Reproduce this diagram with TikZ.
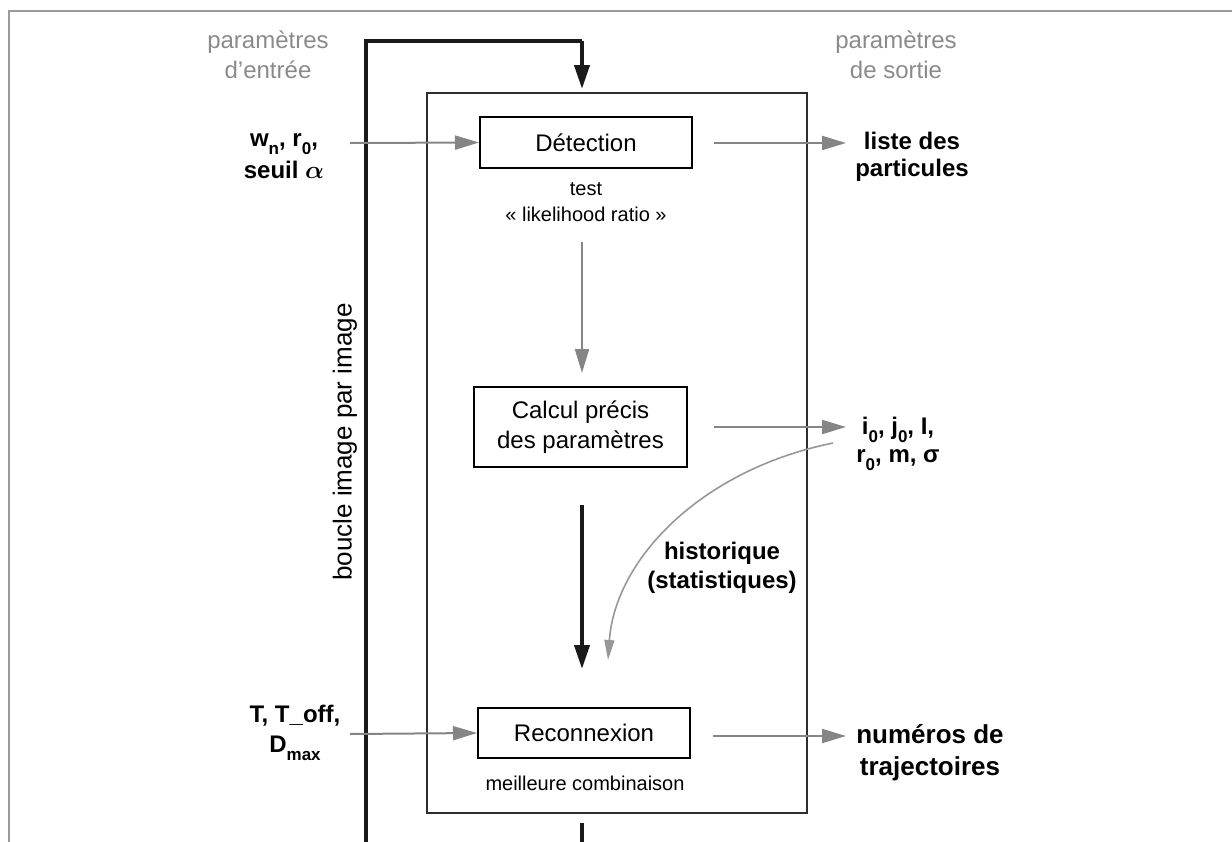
\documentclass[tikz,border=0pt]{standalone}
\usepackage{fontspec}
\setmainfont{Liberation Sans}
\usetikzlibrary{arrows.meta}
\definecolor{framegray}{HTML}{9A9A9A}
\definecolor{arrowgray}{HTML}{858585}
\definecolor{textgray}{HTML}{8A8A8A}
\definecolor{innergray}{HTML}{2E2E2E}
\definecolor{loopblack}{HTML}{1A1A1A}
\newcommand{\lowsub}[1]{\raisebox{-0.32em}{\fontsize{17}{17}\selectfont #1}}
\begin{document}
\begin{tikzpicture}[x=1pt,y=-1pt,
  box/.style={draw=black, line width=2pt, inner sep=0pt, align=center, font=\fontsize{24}{30}\selectfont},
  garrow/.style={draw=arrowgray, line width=2pt, -{Triangle[length=24pt,width=14pt]}},
  thinarrow/.style={draw=arrowgray!85, line width=1.6pt, -{Triangle[length=20pt,width=10pt]}},
  thickarrow/.style={draw=loopblack, line width=4pt, -{Triangle[length=24pt,width=15pt]}},
  thickline/.style={draw=loopblack, line width=4pt},
  graytxt/.style={text=textgray, align=center, font=\fontsize{24}{30}\selectfont},
  boldtxt/.style={align=center, font=\bfseries\fontsize{24}{30}\selectfont},
  smalltxt/.style={align=center, font=\fontsize{20}{26}\selectfont}
]
\useasboundingbox (0,0) rectangle (1232,841);
% outer frame
\draw[framegray, line width=2pt] (9,845) -- (9,11) -- (1236,11);
% inner box
\node[draw=innergray, line width=2.6pt, minimum width=380pt, minimum height=720pt, inner sep=0pt] (inner) at (617,453) {};
% main boxes
\node[box, minimum width=212pt, minimum height=51pt] (det) at (586,142.5) {Détection};
\node[box, minimum width=213pt, minimum height=80pt] (calc) at (580.5,427) {Calcul précis\\des paramètres};
\node[box, minimum width=212pt, minimum height=50pt] (rec) at (584,733) {Reconnexion};
% texts
\node[graytxt] (pin) at (268,55) {paramètres\\d’entrée};
\node[graytxt] (pout) at (896,55) {paramètres\\de sortie};
\node[boldtxt, font=\bfseries\fontsize{24}{32}\selectfont] (win) at (284,156) {w\lowsub{n}, r\lowsub{0},\\seuil {\boldmath$\alpha$}};
\node[boldtxt, font=\bfseries\fontsize{24}{27}\selectfont] (liste) at (912,157) {liste des\\particules};
\node[smalltxt] (test) at (586,202) {test\\« likelihood ratio »};
\node[boldtxt, font=\bfseries\fontsize{24}{28}\selectfont] (ipar) at (898,444) {i\lowsub{0}, j\lowsub{0}, I,\\r\lowsub{0}, m, σ};
\node[boldtxt, font=\bfseries\fontsize{24}{29}\selectfont] (hist) at (722,568) {historique\\(statistiques)};
\node[boldtxt, font=\bfseries\fontsize{24}{30}\selectfont] (tin) at (295,733) {T, T\_off,\\D\lowsub{max}};
\node[boldtxt, font=\bfseries\fontsize{26}{32}\selectfont] (num) at (930,753) {numéros de\\trajectoires};
\node[smalltxt] (best) at (585,783) {meilleure combinaison};
\node[rotate=90, font=\fontsize{26}{30}\selectfont] (boucle) at (345,442) {boucle image par image};
% coordinates
\coordinate (loopbot) at (366,845);
\coordinate (looptl) at (366,41);
\coordinate (looptr) at (582,41);
\coordinate (looptip) at (582,89);
\coordinate (winS) at (350,143);
\coordinate (detE) at (714,143);
\coordinate (listeW) at (846,143);
\coordinate (testS) at (582,242);
\coordinate (calcN) at (582,373);
\coordinate (calcE) at (714,427);
\coordinate (iparW) at (846,427);
\coordinate (curS) at (833,443);
\coordinate (curE) at (608,660);
\coordinate (thS) at (582,505);
\coordinate (thE) at (582,669);
\coordinate (tinS) at (350,734);
\coordinate (recE) at (713,736);
\coordinate (numW) at (846,736);
\coordinate (stubS) at (582,823);
\coordinate (stubE) at (582,845);
% loop
\draw[thickline] (loopbot) -- (looptl) -- (looptr);
\draw[thickarrow] (looptr) -- (looptip);
% arrows
\draw[garrow] (winS) -- (det.west);
\draw[garrow] (detE) -- (listeW);
\draw[garrow] (testS) -- (calcN);
\draw[garrow] (calcE) -- (iparW);
\draw[thinarrow] (curS) .. controls (700,470) and (615,560) .. (curE);
\draw[thickarrow] (thS) -- (thE);
\draw[garrow] (tinS) -- (rec.west);
\draw[garrow] (recE) -- (numW);
\draw[thickline] (stubS) -- (stubE);
\end{tikzpicture}
\end{document}
